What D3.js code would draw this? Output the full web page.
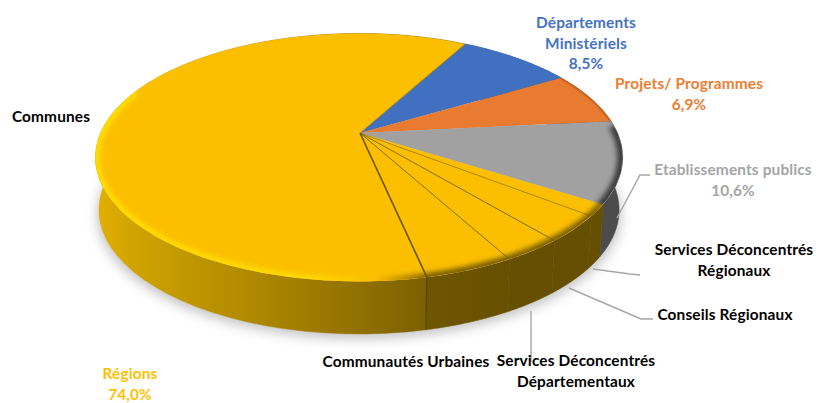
<!DOCTYPE html>
<html lang="fr">
<head>
    <meta charset="UTF-8">
    <title>Répartition 3D</title>
    <style>
        html, body { margin: 0; padding: 0; background: #fff; }
        svg { display: block; }
        text { font: bold 15.4px Lato, sans-serif; text-anchor: middle; letter-spacing: 0.15px; }
    </style>
</head>
<body>
    <script src="https://d3js.org/d3.v7.min.js"></script>
    <script>
        // slices, clockwise from the blue one
        const categories = ["Départements Ministériels", "Projets/ Programmes", "Etablissements publics",
            "Services Déconcentrés Régionaux", "Conseils Régionaux", "Services Déconcentrés Départementaux",
            "Communautés Urbaines", "Communes"];
        const values = [8.5, 6.9, 10.6, 1.5, 3.4, 3.1, 4.6, 61.4];
        const colors = ["#4170c0", "#e97b30", "#a1a1a1", "#fbbf00", "#fbbf00", "#fbbf00", "#fbbf00", "#fbbf00"];
        const wallColors = ["#2c4a80", "#9a5120", "#4c4c4c", "#664f00", "#664f00", "#664f00", "url(#wallRight)", "url(#wallGold)"];

        // text: [lines, centre x, first baseline, colour]
        const labels = [
            [["Départements", "Ministériels", "8,5%"], 586, 28, "#4472c4"],
            [["Projets/ Programmes", "6,9%"], 689, 89, "#ed7d31"],
            [["Etablissements publics", "10,6%"], 733, 175, "#a5a5a5"],
            [["Services Déconcentrés", "Régionaux"], 734, 255, "#000"],
            [["Conseils Régionaux"], 725, 320, "#000"],
            [["Services Déconcentrés", "Départementaux"], 576, 366, "#000"],
            [["Communautés Urbaines"], 406, 367, "#000"],
            [["Communes"], 51, 122, "#000"],
            [["Régions", "74,0%"], 130, 379, "#ffc000"]
        ];
        const leaders = [
            [[650, 175], [640, 175], [617, 218]],
            [[640, 275], [630, 274], [593, 269]],
            [[653, 319], [641, 319], [569, 288]],
            [[531, 362], [531, 311]]
        ];

        const width = 818, height = 403;
        const rad = Math.PI / 180;

        const svg = d3.select("body").append("svg")
            .attr("width", width)
            .attr("height", height);

        const defs = svg.append("defs");
        [["blur1", 1.2], ["blur2", 2.6], ["blur6", 6]].forEach(([id, s]) => {
            defs.append("filter").attr("id", id)
                .attr("filterUnits", "userSpaceOnUse")
                .attr("x", 0).attr("y", 0).attr("width", width).attr("height", height)
                .append("feGaussianBlur").attr("stdDeviation", s);
        });
        function gradient(id, x1, x2, stops) {
            const g = defs.append("linearGradient").attr("id", id)
                .attr("gradientUnits", "userSpaceOnUse")
                .attr("x1", x1).attr("x2", x2).attr("y1", 0).attr("y2", 0);
            stops.forEach(([o, c]) => g.append("stop").attr("offset", o).attr("stop-color", c));
        }
        gradient("wallGold", 95, 428, [[0, "#e3b000"], [0.12, "#cfa300"], [0.55, "#a88300"], [1, "#7c6000"]]);
        gradient("wallRight", 428, 510, [[0, "#6f5600"], [1, "#664f00"]]);
        // rim of the yellow part: bright on the left, dark on the right
        gradient("rimGold", 95, 605, [[0, "#ffdf00"], [0.42, "#ffd800"], [0.55, "#fbbf00"], [0.66, "#7a5e00"], [1, "#7a5e00"]]);

        // disc projected with perspective: the pie centre sits above the middle of the ellipse
        const persp = 0.197;
        const topDisc = { cx: 359, cy: 133, rx: 258.5, ry: 119.2 };
        const bottomDisc = { cx: 359, cy: 185.5, rx: 255, ry: 119.2 };
        function project(disc, deg) {
            const u = Math.sin(deg * rad), v = -Math.cos(deg * rad);
            const w = 1 - persp * v;
            return [disc.cx + disc.rx * u / w, disc.cy + disc.ry * v / w];
        }
        const line = d3.line();
        function arcPoints(disc, a0, a1) {
            return d3.range(0, 61).map(i => project(disc, a0 + (a1 - a0) * i / 60));
        }

        const startDeg = 28.8;
        const pie = d3.pie().sort(null)
            .startAngle(startDeg * rad)
            .endAngle((startDeg + 360) * rad);
        const slices = pie(values).map((d, i) => ({
            a0: d.startAngle / rad, a1: d.endAngle / rad, i
        }));

        // soft shadow under the pie
        svg.append("path")
            .attr("d", line(arcPoints({ ...bottomDisc, cy: bottomDisc.cy + 5, rx: bottomDisc.rx + 2 }, 0, 360)) + "Z")
            .attr("fill", "#c4c4c4")
            .attr("filter", "url(#blur6)");

        // side walls; the back part ends up hidden below the top faces
        svg.append("g").selectAll("path")
            .data(slices)
            .join("path")
            .attr("d", d => line(arcPoints(topDisc, d.a0, d.a1).concat(arcPoints(bottomDisc, d.a1, d.a0))) + "Z")
            .attr("fill", d => wallColors[d.i])
            .attr("stroke", d => wallColors[d.i])
            .attr("stroke-width", 0.5);

        // top faces
        const centre = [360, 133];
        svg.append("g").selectAll("path")
            .data(slices)
            .join("path")
            .attr("d", d => line([centre].concat(arcPoints(topDisc, d.a0, d.a1))) + "Z")
            .attr("fill", d => colors[d.i]);

        // rim shading, clipped to the top face
        defs.append("clipPath").attr("id", "topClip").append("path")
            .attr("d", line(arcPoints(topDisc, 0, 360)) + "Z");
        const rim = svg.append("g").attr("clip-path", "url(#topClip)");
        const rimBands = [
            [slices[2].a0 + 2, slices[2].a1 + 1, "#3c3c3c", 11, "blur2"],
            [slices[3].a0 + 1, 292, "url(#rimGold)", 9, "blur2"],
            [slices[1].a0, slices[1].a1, "#9a5120", 2, "blur1"]
        ];
        rim.selectAll("path")
            .data(rimBands)
            .join("path")
            .attr("d", d => line(arcPoints(topDisc, d[0], d[1])))
            .attr("fill", "none")
            .attr("stroke", d => d[2])
            .attr("stroke-width", d => d[3])
            .attr("filter", d => `url(#${d[4]})`);

        // dividers between the yellow slices
        svg.append("g").selectAll("line")
            .data(slices.slice(4).concat(slices[0]))
            .join("line")
            .attr("x1", centre[0]).attr("y1", centre[1])
            .attr("x2", d => project(topDisc, d.a0)[0])
            .attr("y2", d => project(topDisc, d.a0)[1])
            .attr("stroke", d => d.i === 7 ? "#6b5400" : d.i === 0 ? "#b08a00" : "#7d6200")
            .attr("stroke-width", d => d.i === 7 ? 1.6 : d.i === 4 ? 0.6 : 0.9);

        // dark seam on the wall below the thick divider
        const seam = project(topDisc, slices[7].a0);
        const seamEnd = project(bottomDisc, slices[7].a0);
        svg.append("line")
            .attr("x1", seam[0]).attr("y1", seam[1])
            .attr("x2", seamEnd[0]).attr("y2", seamEnd[1])
            .attr("stroke", "#5a4600")
            .attr("stroke-width", 1.4);

        // leader lines
        svg.append("g").selectAll("path")
            .data(leaders)
            .join("path")
            .attr("d", d => line(d))
            .attr("fill", "none")
            .attr("stroke", "#a6a6a6")
            .attr("stroke-width", 1.4);

        // labels
        const lineGap = 20.5;
        const labelGroups = svg.append("g").selectAll("text")
            .data(labels)
            .join("text")
            .attr("fill", d => d[3]);
        labelGroups.selectAll("tspan")
            .data(d => d[0].map((t, i) => ({ t, x: d[1], y: d[2] + i * lineGap })))
            .join("tspan")
            .attr("x", d => d.x)
            .attr("y", d => d.y)
            .text(d => d.t);
    </script>
</body>
</html>
